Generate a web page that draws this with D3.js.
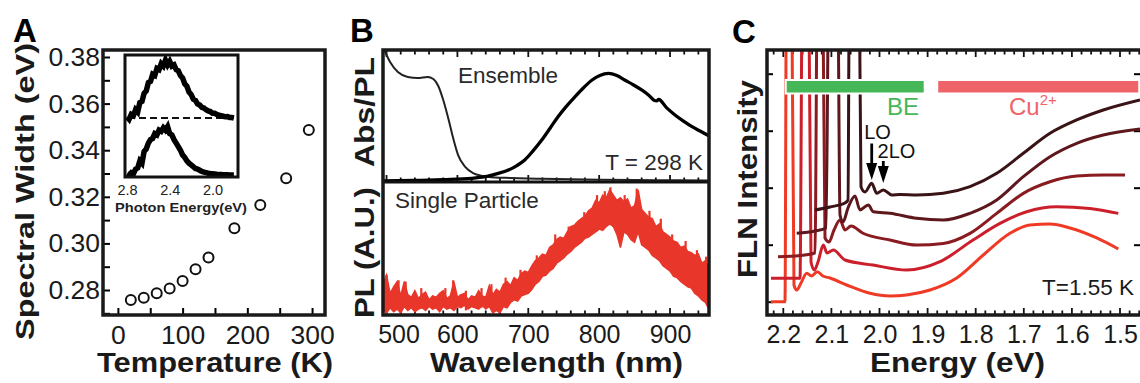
<!DOCTYPE html>
<html><head><meta charset="utf-8">
<script src="https://cdn.jsdelivr.net/npm/d3@7"></script>
<style>body{margin:0;background:#fff;} svg{display:block;}</style>
</head><body>
<svg id="fig" width="1140" height="383"></svg>
<script>
// ---------------- DATA ----------------
// Panel A: spectral width vs temperature
const tempK   = [20, 40, 60, 80, 100, 120, 140, 180, 220, 260, 295];
const widthEV = [0.2757, 0.2767, 0.2786, 0.2806, 0.2839, 0.2889, 0.2939, 0.3065, 0.3165, 0.328, 0.3487];
const aYTicks = [0.28, 0.30, 0.32, 0.34, 0.36, 0.38];
const aXTicks = [0, 100, 200, 300];
// Panel A inset: two single-particle spectra vs photon energy (eV)
const insetE = [2.80,2.78,2.76,2.74,2.72,2.70,2.68,2.66,2.64,2.62,2.60,2.58,2.56,2.54,2.52,2.50,2.48,2.46,2.44,2.42,2.40,2.38,2.36,2.34,2.32,2.30,2.28,2.26,2.24,2.22,2.20,2.18,2.16,2.14,2.12,2.10,2.08,2.06,2.04,2.02,2.00,1.98,1.96,1.94,1.92,1.90,1.88,1.86,1.84,1.82,1.80];
const insetTop = [0.01,-0.01,0.03,0.02,0.07,0.05,0.13,0.14,0.21,0.23,0.30,0.31,0.37,0.36,0.42,0.41,0.46,0.44,0.49,0.45,0.48,0.44,0.45,0.41,0.40,0.36,0.34,0.29,0.27,0.22,0.20,0.16,0.15,0.12,0.11,0.09,0.085,0.07,0.06,0.055,0.04,0.04,0.03,0.025,0.02,0.015,0.01,0.012,0.005,0.004,0.0];
const insetBot = [0.01,0.0,0.02,0.01,0.05,0.06,0.12,0.10,0.20,0.22,0.27,0.30,0.31,0.35,0.34,0.38,0.37,0.40,0.38,0.41,0.35,0.34,0.30,0.27,0.24,0.21,0.17,0.15,0.12,0.10,0.085,0.07,0.055,0.05,0.04,0.03,0.025,0.02,0.015,0.012,0.01,0.008,0.006,0.005,0.004,0.003,0.002,0.002,0.001,0.0,0.0];
const insetTicks = [2.8, 2.4, 2.0];

// Panel B: ensemble absorption / PL and single-particle PL vs wavelength (nm)
const wlAbs  = [495,500,505,516,530,544,558,566,573,580,587,594,601,611,622,636,653,674,720,800,880,955];
const absVal = [1.02,0.962,0.908,0.832,0.794,0.786,0.794,0.779,0.725,0.618,0.481,0.328,0.198,0.107,0.061,0.038,0.027,0.023,0.017,0.01,0.006,0.004];
const wlEns  = [495,540,580,620,639,655,672,684,695,707,719,731,742,754,766,778,790,801,813,825,836,848,860,870,878,881,884,895,907,919,931,941,955];
const ensVal = [0.0,0.004,0.01,0.02,0.033,0.055,0.084,0.118,0.16,0.232,0.313,0.405,0.491,0.572,0.644,0.712,0.771,0.806,0.822,0.805,0.771,0.735,0.695,0.655,0.615,0.612,0.622,0.56,0.504,0.457,0.415,0.385,0.345];
const wlSP = [495,500,505,510,515,520,525,530,535,540,545,550,555,560,565,570,575,580,585,590,595,600,605,610,615,620,625,630,635,640,645,650,655,660,665,670,675,680,685,690,695,700,705,710,715,720,725,730,735,740,745,750,755,760,765,770,775,780,785,790,795,800,805,810,815,820,825,830,835,840,845,850,855,860,865,870,875,880,885,890,895,900,905,910,915,920,925,930,935,940,945,950,955];
const spHigh = [0.22,0.29,0.15,0.20,0.24,0.13,0.24,0.14,0.12,0.17,0.11,0.14,0.16,0.10,0.13,0.12,0.15,0.17,0.11,0.13,0.24,0.12,0.14,0.15,0.10,0.13,0.12,0.17,0.13,0.12,0.21,0.14,0.18,0.16,0.22,0.24,0.21,0.27,0.25,0.30,0.32,0.31,0.36,0.40,0.42,0.45,0.44,0.50,0.52,0.56,0.58,0.57,0.62,0.66,0.67,0.70,0.72,0.74,0.78,0.80,0.86,0.84,0.90,0.88,0.94,0.90,0.86,0.88,0.85,0.87,0.80,0.82,0.94,0.79,0.76,0.73,0.72,0.66,0.68,0.62,0.60,0.58,0.55,0.54,0.50,0.51,0.47,0.46,0.44,0.45,0.38,0.40,0.33];
const spLow  = [0.02,0.0,0.04,0.01,0.03,0.0,0.05,0.02,0.04,0.01,0.03,0.04,0.02,0.05,0.03,0.04,0.01,0.05,0.03,0.04,0.02,0.05,0.04,0.06,0.03,0.05,0.04,0.03,0.06,0.03,0.05,0.0,0.02,0.0,0.05,0.04,0.08,0.10,0.09,0.13,0.14,0.15,0.18,0.22,0.24,0.28,0.29,0.32,0.34,0.38,0.40,0.42,0.45,0.47,0.50,0.52,0.54,0.57,0.58,0.60,0.62,0.64,0.63,0.66,0.68,0.66,0.60,0.50,0.62,0.60,0.56,0.54,0.62,0.52,0.50,0.48,0.44,0.42,0.40,0.36,0.34,0.32,0.28,0.27,0.24,0.22,0.20,0.19,0.15,0.13,0.10,0.08,0.03];
// isolated noise spikes on the single-particle spectrum (wavelength, top value)
const spikeWl  = [500,517,527,549,583,594,612,634,648,668,689,712,738,757,779,797,808,816,836,853,871,887,903,922,938,951];
const spikeTop = [0.29,0.25,0.24,0.19,0.19,0.25,0.17,0.19,0.22,0.27,0.33,0.44,0.60,0.66,0.77,0.90,0.93,0.96,0.90,0.95,0.78,0.72,0.60,0.55,0.48,0.43];
const bXTicks = [500, 600, 700, 800, 900];

// Panel C: FLN spectra (energy eV, intensity) for five excitation energies
const c1E = [2.1341,2.1029,2.0717,2.0655,2.0624,2.0426,2.0385,2.0301,2.0162,2.0058,1.9921,1.9746,1.9574,1.9227,1.8674,1.8119,1.7563,1.701,1.6455,1.59,1.5347,1.4584];
const c1I = [1.609,1.662,1.732,1.784,6,6,2.018,1.925,2.077,1.902,1.96,1.872,1.881,1.872,1.902,2.018,2.253,2.604,2.954,3.188,3.363,3.539];
const c2E = [2.1721,2.1341,2.1112,2.105,2.0873,2.0821,2.0759,2.0655,2.051,2.0406,2.0233,2.0129,1.9781,1.9227,1.8674,1.8119,1.7563,1.701,1.6455,1.59,1.5347,1.4584];
const c2I = [1.2,1.24,1.293,6,6,1.521,1.398,1.644,1.854,1.609,1.697,1.579,1.551,1.463,1.433,1.551,1.784,2.193,2.544,2.779,2.925,3.03];
const c3E = [2.211,2.1653,2.1341,2.1289,2.1185,2.1133,2.105,2.0946,2.0821,2.0717,2.0592,2.0343,1.9781,1.9227,1.8674,1.8119,1.7563,1.701,1.6455,1.59,1.5347,1.4896];
const c3I = [0.789,0.811,0.854,6,6,1.117,1.047,1.258,1.433,1.258,1.328,1.201,1.082,0.994,1.023,1.199,1.55,1.901,2.104,2.204,2.222,2.222];
const c4E = [2.2256,2.1653,2.1601,2.1476,2.1424,2.1356,2.1279,2.1168,2.1091,2.096,2.0717,2.0135,1.9435,1.8742,1.8056,1.7495,1.694,1.6316,1.5624,1.5035];
const c4I = [0.41,0.41,6,6,0.696,0.556,0.696,0.994,0.854,0.906,0.731,0.643,0.556,0.702,1.082,1.374,1.578,1.665,1.637,1.549];
const c5E = [2.2256,2.1965,2.1933,2.183,2.1778,2.1721,2.1632,2.1514,2.141,2.1293,2.1175,2.1029,2.0682,2.0197,1.9781,1.9435,1.895,1.8395,1.7842,1.7287,1.6871,1.6455,1.6039,1.5484,1.5035];
const c5I = [0,0,6,6,0.293,0.205,0.328,0.498,0.451,0.526,0.451,0.416,0.293,0.147,0.1,0.118,0.205,0.416,0.819,1.2,1.346,1.363,1.293,1.118,0.925];
const cColors = ["#3a1317", "#5e171c", "#8a1b21", "#cc1f2c", "#ef3b25"];
const cXTicks = [2.2, 2.1, 2.0, 1.9, 1.8, 1.7, 1.6, 1.5];
const beRange = [2.195, 1.906];
const cuRange = [1.880, 1.460];
const loE = 2.0162, twoLoE = 1.9921;

// ---------------- DRAWING ----------------
const FONT = '"Liberation Sans", Arial, Helvetica, sans-serif';
const svg = d3.select("#fig");
svg.append("rect").attr("width",1140).attr("height",383).attr("fill","#fff");
const defs = svg.append("defs");

function addText(g, x, y, s, o = {}) {
  const t = g.append("text").attr("x", x).attr("y", y).text(s)
    .attr("font-family", o.ff || FONT).attr("font-size", o.fs || 20)
    .attr("font-weight", o.fw || "normal").attr("fill", o.fill || "#000")
    .attr("text-anchor", o.anchor || "start");
  if (o.len) t.attr("textLength", o.len).attr("lengthAdjust", "spacingAndGlyphs");
  if (o.rot) t.attr("transform", `rotate(-90,${x},${y})`);
  return t;
}
function clip(id, x, y, w, h) {
  defs.append("clipPath").attr("id", id).append("rect").attr("x", x).attr("y", y).attr("width", w).attr("height", h);
  return `url(#${id})`;
}
function styleTicks(g, sw) {
  g.select(".domain").remove();
  g.selectAll("line").attr("stroke", "#000").attr("stroke-width", sw);
}

// ===== Panel A =====
const A = svg.append("g");
const aX = d3.scaleLinear().domain([-23, 320]).range([103, 325]);
const aY = d3.scaleLinear().domain([0.28, 0.38]).range([290, 57]);
addText(A, 13, 42, "A", {fs: 33, fw: "bold"});
A.append("g").attr("transform", "translate(0,315)")
  .call(d3.axisBottom(aX).tickValues(d3.range(0, 301, 50)).tickSize(-7).tickFormat(""))
  .call(g => styleTicks(g, 2));
A.append("g").attr("transform", "translate(103,0)")
  .call(d3.axisLeft(aY).tickValues(d3.range(0.27, 0.385, 0.01)).tickSize(-7).tickFormat(""))
  .call(g => styleTicks(g, 2));
A.append("g").attr("transform", "translate(0,315)")
  .call(d3.axisBottom(aX).tickValues(aXTicks).tickSize(0).tickPadding(10).tickFormat(d3.format("d")))
  .call(g => { g.select(".domain").remove(); g.selectAll("text").attr("font-size", 26.5).attr("font-family", FONT).attr("fill", "#1a1a1a"); });
A.append("g").attr("transform", "translate(103,0)")
  .call(d3.axisLeft(aY).tickValues(aYTicks).tickSize(0).tickPadding(3).tickFormat(d3.format(".2f")))
  .call(g => { g.select(".domain").remove(); g.selectAll("text").attr("font-size", 26.5).attr("font-family", FONT).attr("fill", "#1a1a1a"); });
A.append("rect").attr("x", 103).attr("y", 50).attr("width", 222).attr("height", 265)
  .attr("fill", "none").attr("stroke", "#1a1a1a").attr("stroke-width", 3.5);
A.selectAll("circle.pt").data(tempK).join("circle").attr("class", "pt")
  .attr("cx", d => aX(d)).attr("cy", (d, i) => aY(widthEV[i])).attr("r", 5)
  .attr("fill", "none").attr("stroke", "#111").attr("stroke-width", 2);
addText(A, 215, 372, "Temperature (K)", {fs: 27, fw: "bold", anchor: "middle", len: 236, fill: "#1a1a1a"});
addText(A, 33.5, 191.5, "Spectral Width (eV)", {fs: 26, fw: "bold", anchor: "middle", len: 297, rot: true, fill: "#1a1a1a"});

// Inset
const inX = d3.scaleLinear().domain([2.8, 2.0]).range([127, 212.5]);
const inY = d3.scaleLinear().domain([0, 1]).range([175, 57]);
const topOff = 0.483;
A.append("rect").attr("x", 125).attr("y", 55).attr("width", 113).attr("height", 122).attr("fill", "#fff");
const inClip = clip("cpIn", 125, 55, 113, 122);
A.append("line").attr("x1", 128).attr("x2", 236).attr("y1", inY(topOff)).attr("y2", inY(topOff))
  .attr("stroke", "#111").attr("stroke-width", 2).attr("stroke-dasharray", "7,4");
const inLineTop = d3.line().x((d, i) => inX(insetE[i])).y(d => inY(d + topOff));
const inLineBot = d3.line().x((d, i) => inX(insetE[i])).y(d => inY(d));
A.append("path").attr("d", inLineTop(insetTop)).attr("fill", "none").attr("stroke", "#000")
  .attr("stroke-width", 5.5).attr("clip-path", inClip).attr("stroke-linejoin", "miter");
A.append("path").attr("d", inLineBot(insetBot)).attr("fill", "none").attr("stroke", "#000")
  .attr("stroke-width", 5.5).attr("clip-path", inClip).attr("stroke-linejoin", "miter");
A.append("rect").attr("x", 125).attr("y", 55).attr("width", 113).attr("height", 122)
  .attr("fill", "none").attr("stroke", "#111").attr("stroke-width", 3);
A.append("g").attr("transform", "translate(0,177)")
  .call(d3.axisBottom(inX).tickValues(insetTicks).tickSize(0).tickPadding(8).tickFormat(d3.format(".1f")))
  .call(g => { g.select(".domain").remove(); g.selectAll("text").attr("font-size", 14.5).attr("font-family", FONT).attr("fill", "#222"); });
addText(A, 181, 212, "Photon Energy(eV)", {fs: 13.5, fw: "bold", anchor: "middle", len: 132, fill: "#222"});

// ===== Panel B =====
const B = svg.append("g");
const bX = d3.scaleLinear().domain([495, 955]).range([383, 709]);
const bYu = d3.scaleLinear().domain([0, 1]).range([181, 50]);
const bYl = d3.scaleLinear().domain([0, 1]).range([313, 182]);
addText(B, 350, 42, "B", {fs: 33, fw: "bold"});
const bMinor = d3.range(500, 950, 20);
function bTicks(y, dir) {
  B.append("g").selectAll("line").data(bMinor).join("line")
    .attr("x1", d => bX(d)).attr("x2", d => bX(d))
    .attr("y1", y).attr("y2", d => y + dir * (d % 100 === 0 ? 7 : 4.5))
    .attr("stroke", "#111").attr("stroke-width", 1.8);
}
bTicks(50, 1); bTicks(182, -1); bTicks(315, -1);
const upClip = clip("cpBu", 383, 50, 326, 132);
const loClip = clip("cpBl", 383, 182, 326, 133);
B.append("path").attr("clip-path", upClip)
  .attr("d", d3.line().x((d, i) => bX(wlAbs[i])).y(d => bYu(d)).curve(d3.curveMonotoneX)(absVal))
  .attr("fill", "none").attr("stroke", "#222").attr("stroke-width", 2);
B.append("path").attr("clip-path", upClip)
  .attr("d", d3.line().x((d, i) => bX(wlEns[i])).y(d => bYu(d)).curve(d3.curveMonotoneX)(ensVal))
  .attr("fill", "none").attr("stroke", "#000").attr("stroke-width", 3.3);
B.append("path").attr("clip-path", loClip)
  .attr("d", d3.area().x((d, i) => bX(wlSP[i])).y0((d, i) => bYl(spLow[i])).y1(d => bYl(d))(spHigh))
  .attr("fill", "#e8372a").attr("stroke", "#e8372a").attr("stroke-width", 1.5);
B.append("g").attr("clip-path", loClip).selectAll("line").data(spikeWl).join("line")
  .attr("x1", d => bX(d)).attr("x2", d => bX(d))
  .attr("y1", (d, i) => bYl(spikeTop[i])).attr("y2", (d, i) => bYl(spikeTop[i] - 0.15))
  .attr("stroke", "#e8372a").attr("stroke-width", 2.2);
B.append("line").attr("x1", 383).attr("x2", 709).attr("y1", 182).attr("y2", 182).attr("stroke", "#111").attr("stroke-width", 3);
B.append("rect").attr("x", 383).attr("y", 50).attr("width", 326).attr("height", 265)
  .attr("fill", "none").attr("stroke", "#1a1a1a").attr("stroke-width", 3.5);
B.append("g").attr("transform", "translate(0,315)")
  .call(d3.axisBottom(bX).tickValues(bXTicks).tickSize(0).tickPadding(10).tickFormat(d3.format("d")))
  .call(g => { g.select(".domain").remove();
    g.selectAll("text").attr("font-size", 25).attr("font-family", FONT).attr("fill", "#1a1a1a")
      .attr("dx", d => d === 500 ? 12 : 0); });
addText(B, 458, 83, "Ensemble", {fs: 22.5, fill: "#2a2a2a"});
addText(B, 703, 170, "T = 298 K", {fs: 22.5, anchor: "end", fill: "#2a2a2a"});
addText(B, 395, 208, "Single Particle", {fs: 22.5, fill: "#2a2a2a"});
addText(B, 556.5, 372, "Wavelength (nm)", {fs: 27, fw: "bold", anchor: "middle", len: 253, fill: "#1a1a1a"});
addText(B, 374, 112, "Abs/PL", {fs: 28, fw: "bold", anchor: "middle", len: 110, rot: true, fill: "#1a1a1a"});
addText(B, 374, 252.5, "PL (A.U.)", {fs: 28, fw: "bold", anchor: "middle", len: 131, rot: true, fill: "#1a1a1a"});

// ===== Panel C =====
const C = svg.append("g");
const xC = d3.scaleLinear().domain([2.2, 1.5]).range([783.3, 1120]);
const yC = d3.scaleLinear().domain([0, 4]).range([301.7, 73.7]);
addText(C, 732, 43, "C", {fs: 33, fw: "bold"});
const cMinor = d3.range(0, 39).map(i => +(2.22 - 0.02 * i).toFixed(2));
function cTicks(y, dir) {
  C.append("g").selectAll("line").data(cMinor).join("line")
    .attr("x1", d => xC(d)).attr("x2", d => xC(d))
    .attr("y1", y).attr("y2", d => y + dir * (Math.abs(d * 10 - Math.round(d * 10)) < 1e-6 ? 7 : 4.5))
    .attr("stroke", "#111").attr("stroke-width", 1.8);
}
cTicks(50, 1); cTicks(315, -1);
C.append("g").attr("transform", "translate(767,0)")
  .call(d3.axisLeft(yC).tickValues([0, 1, 2, 3, 4]).tickSize(-6).tickFormat(""))
  .call(g => styleTicks(g, 2));
C.append("g").attr("transform", "translate(1140,0)")
  .call(d3.axisRight(yC).tickValues([1, 2, 3, 4]).tickSize(-6).tickFormat(""))
  .call(g => styleTicks(g, 2));
const cClip = clip("cpC", 767, 50, 374, 265);
const cSeries = [[c5E, c5I], [c4E, c4I], [c3E, c3I], [c2E, c2I], [c1E, c1I]];
const cCols = [cColors[4], cColors[3], cColors[2], cColors[1], cColors[0]];
cSeries.forEach((s, k) => {
  const [E, I] = s;
  C.append("path").attr("clip-path", cClip)
    .attr("d", d3.line().x((d, i) => xC(E[i])).y(d => yC(d)).curve(d3.curveMonotoneX)(I))
    .attr("fill", "none").attr("stroke", cCols[k]).attr("stroke-width", 3).attr("stroke-linejoin", "round");
});
C.append("rect").attr("x", xC(beRange[0])).attr("y", 80).attr("width", xC(beRange[1]) - xC(beRange[0])).attr("height", 13.5)
  .attr("fill", "#45b757").attr("stroke", "#fff").attr("stroke-width", 2);
C.append("rect").attr("x", xC(cuRange[0])).attr("y", 80).attr("width", xC(cuRange[1]) - xC(cuRange[0])).attr("height", 13.5)
  .attr("fill", "#ee6469").attr("stroke", "#fff").attr("stroke-width", 2).attr("clip-path", cClip);
addText(C, 903, 114.5, "BE", {fs: 24, anchor: "middle", fill: "#45b757"});
const cu = addText(C, 1009, 114.5, "Cu", {fs: 24, fill: "#ee6469"});
cu.append("tspan").attr("dy", -10).attr("font-size", 15).text("2+");
addText(C, 877.5, 139, "LO", {fs: 20, anchor: "middle", fill: "#111"});
addText(C, 896.5, 158, "2LO", {fs: 20, anchor: "middle", fill: "#111"});
function arrow(x, y0, y1) {
  C.append("line").attr("x1", x).attr("x2", x).attr("y1", y0).attr("y2", y1 - 14).attr("stroke", "#000").attr("stroke-width", 2.8);
  C.append("path").attr("d", `M${x - 5.5},${y1 - 17}L${x + 5.5},${y1 - 17}L${x},${y1}Z`).attr("fill", "#000");
}
arrow(xC(loE), 143.5, 180);
arrow(xC(twoLoE), 161, 183);
addText(C, 1134, 295, "T=1.55 K", {fs: 22.5, anchor: "end", fill: "#1a1a1a"});
C.append("rect").attr("x", 767).attr("y", 50).attr("width", 376).attr("height", 265)
  .attr("fill", "none").attr("stroke", "#1a1a1a").attr("stroke-width", 3.5);
C.append("g").attr("transform", "translate(0,315)")
  .call(d3.axisBottom(xC).tickValues(cXTicks).tickSize(0).tickPadding(10).tickFormat(d3.format(".1f")))
  .call(g => { g.select(".domain").remove(); g.selectAll("text").attr("font-size", 25).attr("font-family", FONT).attr("fill", "#1a1a1a"); });
addText(C, 957.5, 372, "Energy (eV)", {fs: 27, fw: "bold", anchor: "middle", len: 175, fill: "#1a1a1a"});
addText(C, 757, 179, "FLN Intensity", {fs: 28, fw: "bold", anchor: "middle", len: 198, rot: true, fill: "#1a1a1a"});
</script>
</body></html>
